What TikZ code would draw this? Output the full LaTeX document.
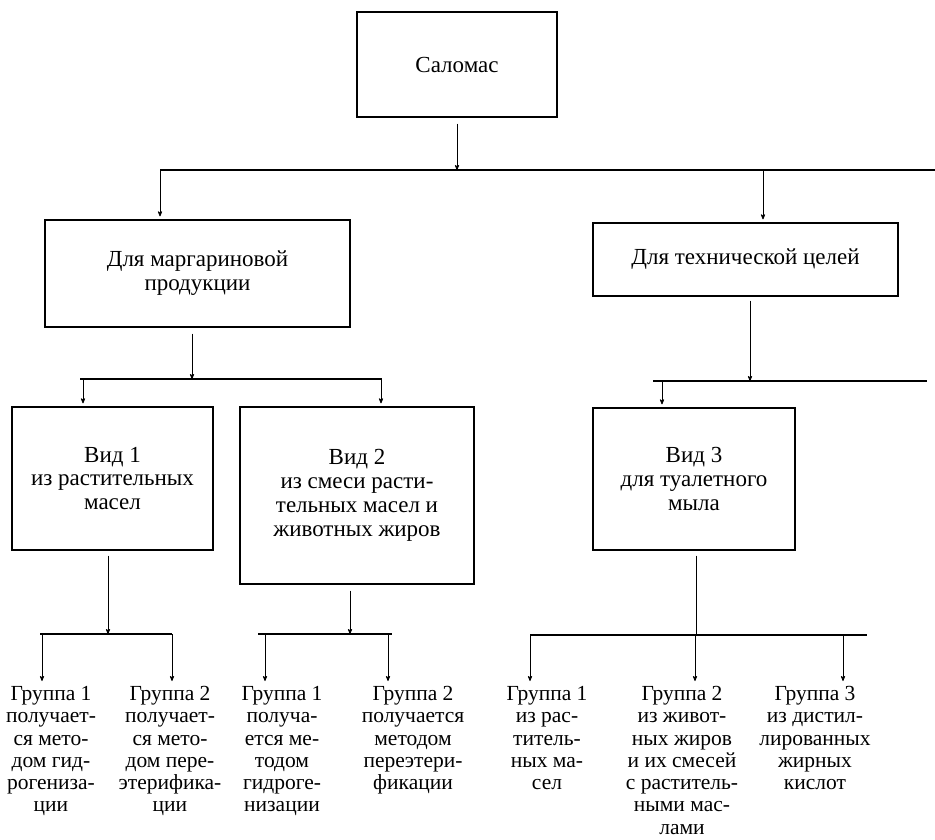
\documentclass[tikz,border=0pt]{standalone}
\usepackage{fontspec}
\setmainfont{Liberation Serif}
\usetikzlibrary{positioning,arrows}

\begin{document}
\begin{tikzpicture}[x=1pt, y=-1pt,
        kind/.style={draw, line width=1.3pt, align=center, inner sep=0pt,
            font=\fontsize{23}{23.8}\selectfont},
        group/.style={align=center, anchor=north, inner sep=0pt,
            font=\fontsize{21.5}{22.3}\selectfont},
        bus/.style={line width=1.3pt},
        feed/.style={->, >=stealth', line width=0.8pt}]
    \useasboundingbox (0,0) rectangle (935,839);

    % boxes
    \node[kind, minimum width=200pt, minimum height=105pt] (sal) at (457,64.5) {Саломас};
    \node[kind, minimum width=305pt, minimum height=107pt] (marg) at (197.5,273.5) {Для маргариновой\\продукции};
    \node[kind, minimum width=305pt, minimum height=73pt] (tech) at (745.5,259.5) {Для технической целей};
    \node[kind, minimum width=201pt, minimum height=143pt] (vid1) at (112.5,478.5) {Вид 1\\из растительных\\масел};
    \node[kind, minimum width=234pt, minimum height=177pt] (vid2) at (357,495.5) {Вид 2\\из смеси расти-\\тельных масел и\\животных жиров};
    \node[kind, minimum width=202pt, minimum height=142pt] (vid3) at (694,479) {Вид 3\\для туалетного\\мыла};

    % groups
    \node[group] (g11) at (51,686) {Группа 1\\получает-\\ся мето-\\дом гид-\\рогениза-\\ции};
    \node[group] (g12) at (170,686) {Группа 2\\получает-\\ся мето-\\дом пере-\\этерифика-\\ции};
    \node[group] (g21) at (282,686) {Группа 1\\получа-\\ется ме-\\тодом\\гидроге-\\низации};
    \node[group] (g22) at (413,686) {Группа 2\\получается\\методом\\переэтери-\\фикации};
    \node[group] (g31) at (547,686) {Группа 1\\из рас-\\титель-\\ных ма-\\сел};
    \node[group] (g32) at (682,686) {Группа 2\\из живот-\\ных жиров\\и их смесей\\с раститель-\\ными мас-\\лами};
    \node[group] (g33) at (815,686) {Группа 3\\из дистил-\\лированных\\жирных\\кислот};

    % bus lines
    \coordinate (b1w) at (160,170);
    \coordinate (b1e) at (935,170);
    \coordinate (b2w) at (80,379);
    \coordinate (b2e) at (382,379);
    \coordinate (b3w) at (653,381);
    \coordinate (b3e) at (927,381);
    \coordinate (b4w) at (40,634);
    \coordinate (b4e) at (172,634);
    \coordinate (b5w) at (258,634);
    \coordinate (b5e) at (392,634);
    \coordinate (b6w) at (530,635);
    \coordinate (b6e) at (867,635);
    \foreach \w/\e in {b1w/b1e, b2w/b2e, b3w/b3e, b4w/b4e, b5w/b5e, b6w/b6e}
        \draw[bus] (\w) -- (\e);

    % drops from the buses
    \coordinate (d1) at (160,170);
    \coordinate (d2) at (763,170);
    \coordinate (d3) at (83,379);
    \coordinate (d4) at (381,379);
    \coordinate (d5) at (662,381);
    \coordinate (d6) at (42,634);
    \coordinate (d7) at (172,634);
    \coordinate (d8) at (265,634);
    \coordinate (d9) at (388,634);
    \coordinate (d10) at (530,635);
    \coordinate (d11) at (695,635);
    \coordinate (d12) at (843,635);
    \foreach \d/\n in {d1/marg, d2/tech, d3/vid1, d4/vid2, d5/vid3}
        \draw[feed, shorten >=3pt] (\d) -- (\d |- \n.north);
    \foreach \d/\n in {d6/g11, d7/g12, d8/g21, d9/g22, d10/g31, d11/g32, d12/g33}
        \draw[feed, shorten >=5pt] (\d) -- (\d |- \n.north);

    % feeds into the buses
    \draw[feed, shorten <=6pt] (sal.south) -- (sal.south |- b1w);
    \draw[feed, shorten <=6pt] ([xshift=-5.5pt]marg.south)
        -- ([xshift=-5.5pt]marg.south |- b2w);
    \draw[feed, shorten <=4pt] ([xshift=4.5pt]tech.south)
        -- ([xshift=4.5pt]tech.south |- b3w);
    \draw[feed, shorten <=5pt] ([xshift=-4.5pt]vid1.south)
        -- ([xshift=-4.5pt]vid1.south |- b4w);
    \draw[feed, shorten <=6pt] ([xshift=-7pt]vid2.south)
        -- ([xshift=-7pt]vid2.south |- b5w);
    \draw[line width=0.8pt, shorten <=5pt] ([xshift=2pt]vid3.south)
        -- ([xshift=2pt]vid3.south |- b6w);
\end{tikzpicture}
\end{document}
